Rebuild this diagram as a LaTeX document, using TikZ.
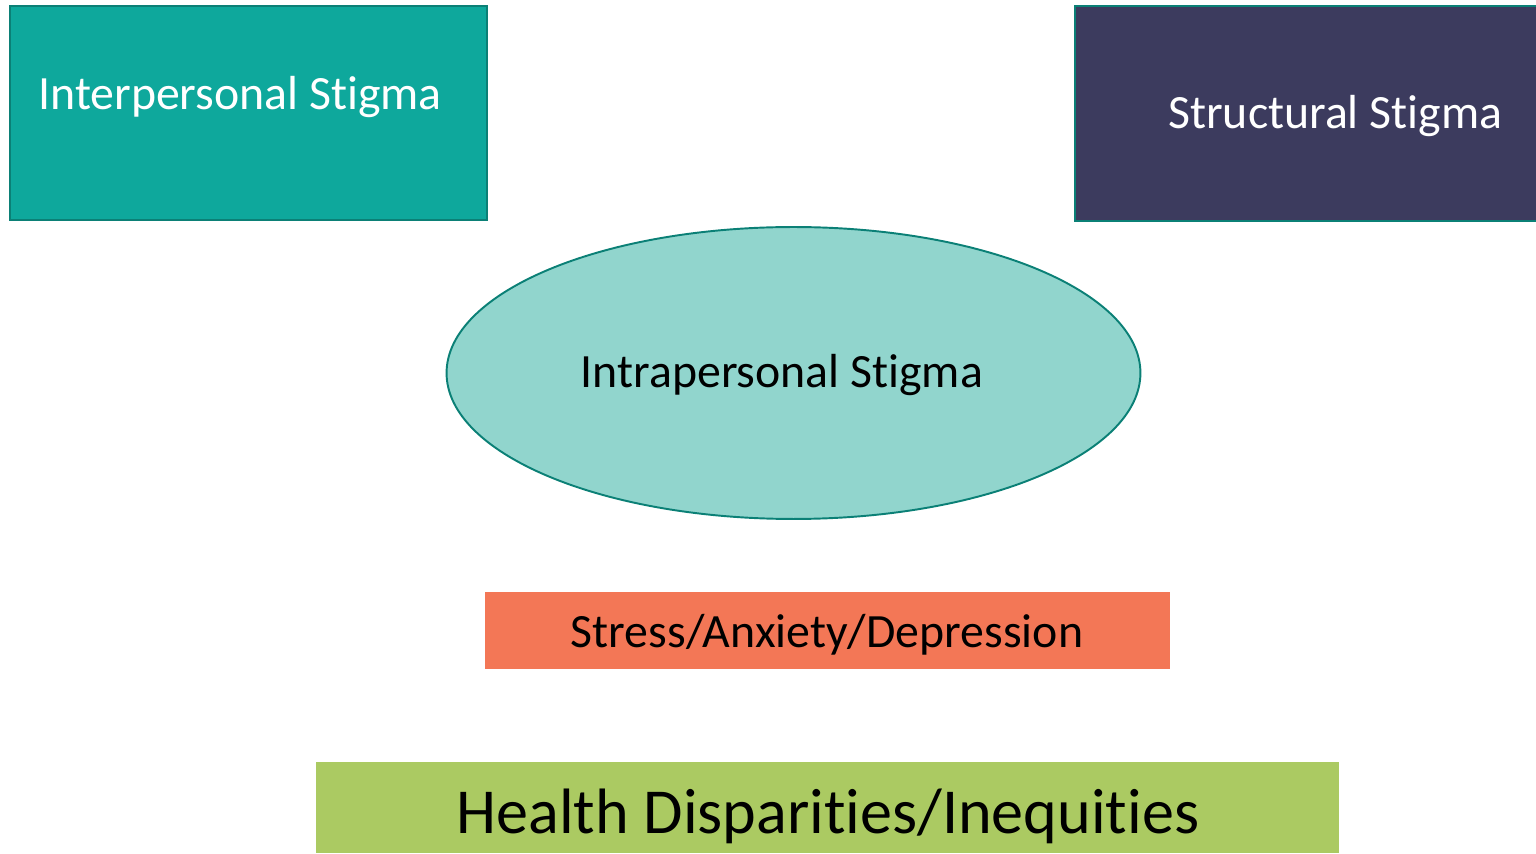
\documentclass[tikz,border=0pt]{standalone}
\usepackage{fontspec}
\setmainfont{Carlito}[Ligatures=NoCommon]
\usetikzlibrary{shapes.geometric}
\definecolor{tealbox}{HTML}{0EA89C}
\definecolor{tealedge}{HTML}{0B8076}
\definecolor{navybox}{HTML}{3C3B5E}
\definecolor{mintfill}{HTML}{91D5CD}
\definecolor{coralbox}{HTML}{F37756}
\definecolor{limebox}{HTML}{ABCA62}
\tikzset{
  stigmabox/.style={rectangle, draw=tealedge, line width=1.1pt, inner sep=0pt, outer sep=0pt},
  plainbox/.style={rectangle, inner sep=0pt, outer sep=0pt},
  bigtext/.style={font=\fontsize{27.2}{32}\selectfont, inner sep=0pt},
  hugetext/.style={font=\fontsize{36.5}{44}\selectfont, inner sep=0pt}
}
\begin{document}
\begin{tikzpicture}[x=0.02cm,y=-0.02cm]
\useasboundingbox (0,0) rectangle (1536,854);
% top boxes
\node[stigmabox, fill=tealbox, minimum width=9.54cm, minimum height=4.28cm] (inter) at (248.5,113) {};
\node[bigtext, text=white, anchor=base west] (intertext) at (38,110) {Interpersonal Stigma};
\node[stigmabox, fill=navybox, minimum width=9.4cm, minimum height=4.3cm] (struct) at (1310,113.5) {};
\node[bigtext, text=white, anchor=base west] (structtext) at (1168,129) {Structural Stigma};
% ellipse
\node[ellipse, draw=tealedge, line width=1.1pt, fill=mintfill, minimum width=13.88cm, minimum height=5.84cm, inner sep=0pt] (intra) at (793.5,373) {};
\node[bigtext, anchor=base] (intratext) at (782,388) {Intrapersonal Stigma};
% bottom boxes
\node[plainbox, fill=coralbox, minimum width=13.7cm, minimum height=1.54cm] (stress) at (827.5,630.5) {};
\node[bigtext, anchor=base] (stresstext) at (827,648) {Stress/Anxiety/Depression};
\node[plainbox, fill=limebox, minimum width=20.46cm, minimum height=1.84cm] (health) at (827.5,807.5) {};
\node[hugetext, anchor=base] (healthtext) at (828,833) {Health Disparities/Inequities};
\end{tikzpicture}
\end{document}
